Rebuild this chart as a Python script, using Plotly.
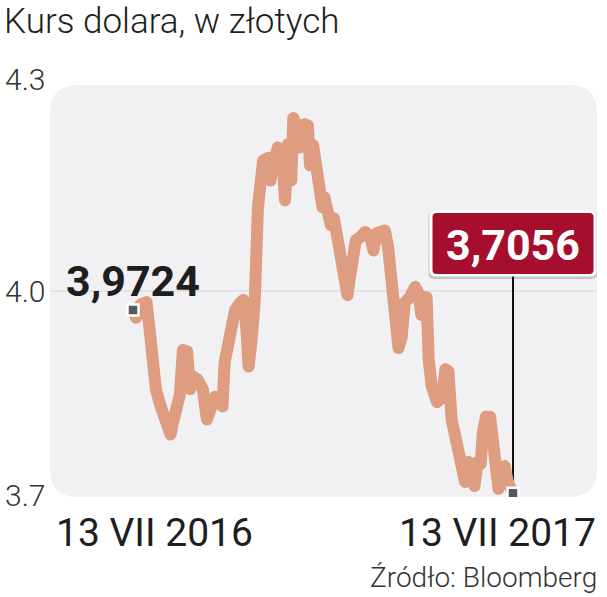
import plotly.graph_objects as go

dates = ["2016-07-13","2016-07-16","2016-07-20","2016-07-26","2016-07-29","2016-08-01","2016-08-04","2016-08-08",
         "2016-08-11","2016-08-15","2016-08-18","2016-08-20","2016-08-23","2016-08-27","2016-08-30","2016-09-03",
         "2016-09-06","2016-09-09","2016-09-13","2016-09-18","2016-09-22","2016-09-25","2016-09-30","2016-10-05",
         "2016-10-07","2016-10-09","2016-10-14","2016-10-19","2016-10-24","2016-10-27","2016-10-30","2016-11-01",
         "2016-11-04","2016-11-07","2016-11-10","2016-11-15","2016-11-20","2016-11-22","2016-11-24","2016-11-29",
         "2016-12-03","2016-12-06","2016-12-09","2016-12-12","2016-12-14","2016-12-18","2016-12-20","2016-12-25",
         "2016-12-28","2016-12-30","2017-01-02","2017-01-06","2017-01-08","2017-01-11","2017-01-13","2017-01-16",
         "2017-01-19","2017-01-22","2017-01-25","2017-01-29","2017-02-01","2017-02-04","2017-02-06","2017-02-09",
         "2017-02-12","2017-02-16","2017-02-21","2017-02-26","2017-03-01","2017-03-04","2017-03-09","2017-03-12",
         "2017-03-15","2017-03-17","2017-03-20","2017-03-22","2017-03-25","2017-03-28","2017-03-31","2017-04-05",
         "2017-04-10","2017-04-13","2017-04-16","2017-04-19","2017-04-21","2017-04-23","2017-04-26","2017-05-01",
         "2017-05-06","2017-05-09","2017-05-12","2017-05-15","2017-05-18","2017-05-21","2017-05-25","2017-05-28",
         "2017-05-31","2017-06-04","2017-06-06","2017-06-09","2017-06-12","2017-06-14","2017-06-17","2017-06-21",
         "2017-06-23","2017-06-26","2017-06-29","2017-07-02","2017-07-05","2017-07-08","2017-07-13"]
usd_pln = [3.9724,3.961,3.980,3.984,3.943,3.886,3.857,3.835,
           3.820,3.809,3.791,3.806,3.828,3.849,3.914,3.912,
           3.857,3.875,3.871,3.857,3.813,3.832,3.846,3.838,
           3.832,3.896,3.929,3.972,3.983,3.987,3.943,3.890,
           3.929,3.987,4.122,4.190,4.194,4.161,4.180,4.209,
           4.204,4.132,4.214,4.161,4.252,4.238,4.209,4.243,
           4.241,4.183,4.212,4.180,4.142,4.122,4.136,4.122,
           4.096,4.106,4.074,4.052,4.030,3.994,4.016,4.052,
           4.074,4.078,4.086,4.078,4.059,4.084,4.088,4.088,
           4.064,4.038,4.001,3.958,3.917,3.932,3.983,3.991,
           4.006,3.997,3.965,3.991,3.991,3.900,3.861,3.838,
           3.846,3.886,3.883,3.813,3.788,3.759,3.741,3.722,
           3.751,3.730,3.716,3.751,3.748,3.794,3.817,3.817,
           3.788,3.741,3.712,3.741,3.745,3.722,3.7056]

y_ticks = [4.3, 4.0, 3.7]
y_tick_labels = ["4.3", "4.0", "3.7"]
x_labels = ["13 VII 2016", "13 VII 2017"]
title_text = "Kurs dolara, w złotych"
source_text = "Źródło: Bloomberg"

W, H = 607, 597
ML, MR, MT, MB = 50, 10, 85, 100
PW, PH = W - ML - MR, H - MT - MB

def px(x):
    return (x - ML) / PW

def py(y):
    return (H - MB - y) / PH

def rr(hw, hh, r):
    x0, x1, y0, y1 = -hw, hw, -hh, hh
    return (f"M{x0+r},{y0} L{x1-r},{y0} Q{x1},{y0} {x1},{y0+r} L{x1},{y1-r} Q{x1},{y1} {x1-r},{y1} "
            f"L{x0+r},{y1} Q{x0},{y1} {x0},{y1-r} L{x0},{y0+r} Q{x0},{y0} {x0+r},{y0} Z")

fmt = lambda v: f"{v:.4f}".replace(".", ",")

LINE_COL = "rgb(222,156,128)"
RED = "#a50f2d"
TXT = "#1e1e1e"

fig = go.Figure()
fig.add_trace(go.Scatter(x=dates, y=usd_pln, mode="lines",
                         line=dict(color=LINE_COL, width=12), hoverinfo="skip"))
fig.add_trace(go.Scatter(x=[dates[0], dates[-1]], y=[usd_pln[0], usd_pln[-1]], mode="markers",
                         marker=dict(symbol="square", size=11, color="#555a5e",
                                     line=dict(color="white", width=2.5)), hoverinfo="skip"))

shapes = [
    dict(type="path", xref="paper", yref="paper", xsizemode="pixel", ysizemode="pixel",
         xanchor=0.5, yanchor=0.5, path=rr(PW / 2, PH / 2, 28),
         fillcolor="#f1f1f3", line=dict(width=0), layer="below"),
    dict(type="line", xref="paper", yref="y", x0=0, x1=1, y0=4.0, y1=4.0,
         line=dict(color="#d6d6d8", width=1), layer="below"),
]
box_cy = 243.5
box_bottom = 276
y_box_bottom = 3.7 + (H - MB - box_bottom) / PH * 0.6
shapes.append(dict(type="line", xref="x", yref="y", x0=dates[-1], x1=dates[-1],
                   y0=usd_pln[-1], y1=y_box_bottom, line=dict(color="#111", width=2), layer="below"))
shapes.append(dict(type="path", xref="x", yref="paper", xsizemode="pixel", ysizemode="pixel",
                   xanchor=dates[-1], yanchor=py(box_cy + 1.5), path=rr(84.5, 34, 6),
                   fillcolor="rgba(0,0,0,0.18)", line=dict(width=0)))
shapes.append(dict(type="path", xref="x", yref="paper", xsizemode="pixel", ysizemode="pixel",
                   xanchor=dates[-1], yanchor=py(box_cy), path=rr(83.5, 33, 6),
                   fillcolor="white", line=dict(width=0)))
shapes.append(dict(type="path", xref="x", yref="paper", xsizemode="pixel", ysizemode="pixel",
                   xanchor=dates[-1], yanchor=py(box_cy), path=rr(80.5, 30.5, 4),
                   fillcolor=RED, line=dict(width=0)))

ann = []
ann.append(dict(text=title_text, xref="paper", yref="paper", x=px(2), y=py(22),
                xanchor="left", yanchor="middle", showarrow=False,
                font=dict(family="Roboto", size=35, color=TXT, weight=300)))
tick_centers = [80, 291, 495]
for lab, yc in zip(y_tick_labels, tick_centers):
    ann.append(dict(text=lab, xref="paper", yref="paper", x=px(3), y=py(yc),
                    xanchor="left", yanchor="middle", showarrow=False,
                    font=dict(family="Roboto", size=30, color="#333", weight=300)))
ann.append(dict(text=x_labels[0], xref="paper", yref="paper", x=px(54), y=py(533),
                xanchor="left", yanchor="middle", showarrow=False,
                font=dict(family="Roboto", size=39, color=TXT)))
ann.append(dict(text=x_labels[1], xref="paper", yref="paper", x=px(598), y=py(533),
                xanchor="right", yanchor="middle", showarrow=False,
                font=dict(family="Roboto", size=39, color=TXT)))
ann.append(dict(text=source_text, xref="paper", yref="paper", x=px(599), y=py(577),
                xanchor="right", yanchor="middle", showarrow=False,
                font=dict(family="Roboto", size=28, color="#333", weight=300)))
BOLD = "Roboto"
ann.append(dict(text=fmt(usd_pln[0]), xref="x", yref="paper", x=dates[0], y=py(281),
                xanchor="center", yanchor="middle", showarrow=False,
                font=dict(family=BOLD, size=43, color=TXT, weight=700)))
ann.append(dict(text=fmt(usd_pln[-1]), xref="x", yref="paper", x=dates[-1], y=py(245),
                xanchor="center", yanchor="middle", showarrow=False,
                font=dict(family=BOLD, size=43, color="white", weight=700)))

fig.update_layout(
    width=W, height=H,
    margin=dict(l=ML, r=MR, t=MT, b=MB),
    paper_bgcolor="white", plot_bgcolor="rgba(0,0,0,0)",
    showlegend=False,
    xaxis=dict(type="date", range=["2016-04-24 07:00", "2017-10-01 16:00"],
               showgrid=False, zeroline=False, showticklabels=False, ticks="", showline=False),
    yaxis=dict(range=[3.7, 4.3], showgrid=False, zeroline=False, showticklabels=False,
               ticks="", showline=False),
    shapes=shapes, annotations=ann,
)
fig.write_html("out.html", config={"displayModeBar": False},
               post_script="document.body.style.margin='0';document.body.style.overflow='hidden';"
                           "document.querySelectorAll('.js-line').forEach(function(p){"
                           "p.style.strokeLinejoin='round';p.style.strokeLinecap='round';});")
